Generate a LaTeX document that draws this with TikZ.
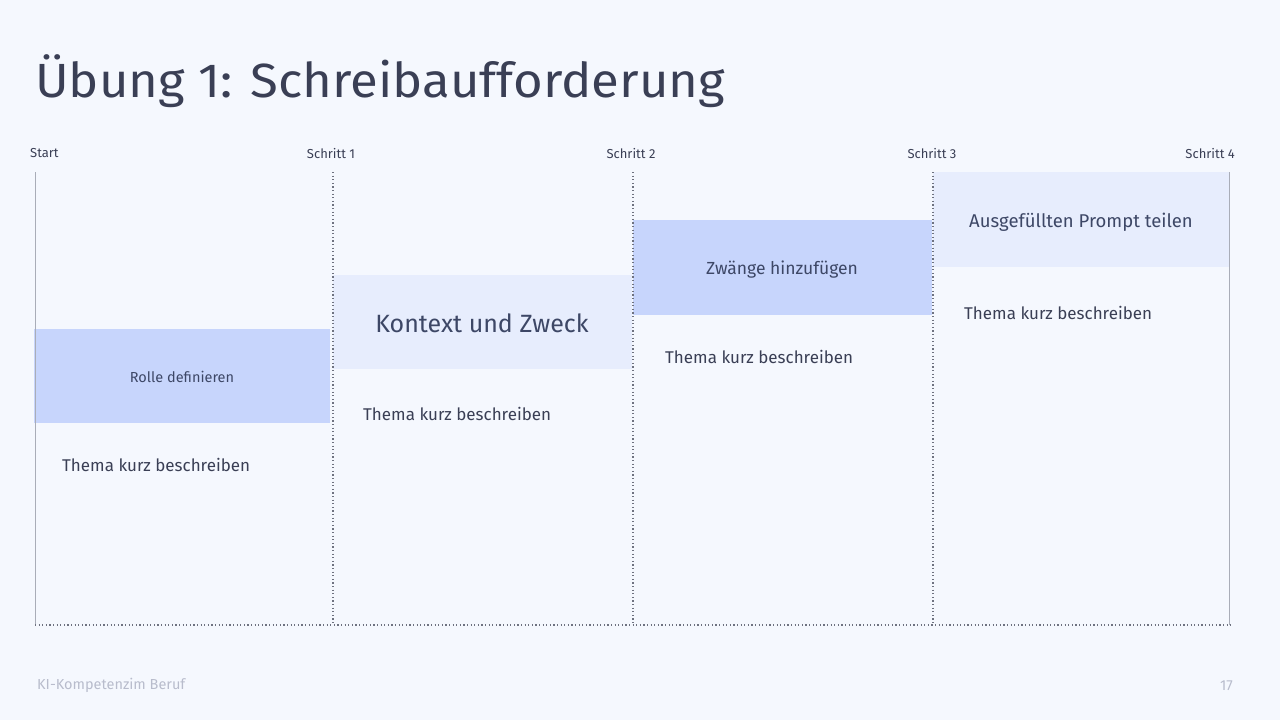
\documentclass[tikz,border=0pt]{standalone}
\usepackage{fontspec}
\setmainfont{Fira Sans}[Scale=1]
\setsansfont{Fira Sans}
\definecolor{bg}{HTML}{F5F8FE}
\definecolor{ink}{HTML}{3A3F55}
\definecolor{strong}{HTML}{C7D5FC}
\definecolor{soft}{HTML}{E7EDFD}
\definecolor{rule}{HTML}{A9ADB8}
\definecolor{dots}{HTML}{6E7280}
\definecolor{foot}{HTML}{B8BCCC}
\definecolor{boxtext}{HTML}{3D4766}
\tikzset{
  px/.style={x=1pt,y=-1pt},
  steplabel/.style={font=\fontsize{13}{15}\selectfont, text=ink, inner sep=0pt},
  desc/.style={font=\fontsize{17}{20}\selectfont, text=ink, anchor=west, inner sep=0pt},
  solidrule/.style={draw=rule, line width=0.9pt},
  dotrule/.style={draw=dots, line width=1.1pt, dash pattern=on 1.1pt off 2.5pt},
  boxstrong/.style={fill=strong, draw=none},
  boxsoft/.style={fill=soft, draw=none}
}
\begin{document}
\begin{tikzpicture}[px]
\fill[bg] (0,0) rectangle (1280,720);
\useasboundingbox (0,0) rectangle (1280,720);
% title
\node[anchor=base west, inner sep=0pt, text=ink, xscale=1.06, font=\fontsize{48}{52}\selectfont] (title) at (35,97) {Übung 1: Schreibaufforderung};
% boxes
\fill[boxstrong] (34,329) rectangle (330,423);
\fill[boxsoft] (333,275) rectangle (632,369);
\fill[boxstrong] (633,220) rectangle (932,315);
\fill[boxsoft] (933,172) rectangle (1229,267);
\node[text=boxtext, font=\fontsize{14.5}{17}\selectfont] (b1) at (182,377) {Rolle definieren};
\node[text=boxtext, font=\fontsize{25}{28}\selectfont] (b2) at (482,323) {Kontext und Zweck};
\node[text=boxtext, font=\fontsize{17.5}{20}\selectfont] (b3) at (782,270) {Zwänge hinzufügen};
\node[text=boxtext, font=\fontsize{18.5}{22}\selectfont] (b4) at (1081,222) {Ausgefüllten Prompt teilen};
% descriptions
\node[desc] (d1) at (62,465) {Thema kurz beschreiben};
\node[desc] (d2) at (363,414) {Thema kurz beschreiben};
\node[desc] (d3) at (665,357) {Thema kurz beschreiben};
\node[desc] (d4) at (964,313) {Thema kurz beschreiben};
% lines
\coordinate (t0) at (35,172); \coordinate (u0) at (35,625);
\coordinate (t1) at (333,172); \coordinate (u1) at (333,625);
\coordinate (t2) at (633,172); \coordinate (u2) at (633,625);
\coordinate (t3) at (933,172); \coordinate (u3) at (933,625);
\coordinate (t4) at (1229,172); \coordinate (u4) at (1229,625);
\draw[solidrule] (t0) -- (u0);
\draw[solidrule] (t4) -- (u4);
\draw[dotrule] (t1) -- (u1);
\draw[dotrule] (t2) -- (u2);
\draw[dotrule] (t3) -- (u3);
\coordinate (bl) at (35,625); \coordinate (br) at (1231,625);
\draw[dotrule] (bl) -- (br);
% step labels
\node[steplabel, anchor=west] (s0) at (30,153) {Start};
\node[steplabel] (s1) at (331,154) {Schritt 1};
\node[steplabel] (s2) at (631,154) {Schritt 2};
\node[steplabel] (s3) at (932,154) {Schritt 3};
\node[steplabel, anchor=east] (s4) at (1235,154) {Schritt 4};
% footer
\node[anchor=west, inner sep=0pt, text=foot, font=\fontsize{14.5}{17}\selectfont] (f1) at (37,685) {KI-Kompetenzim Beruf};
\node[anchor=east, inner sep=0pt, text=foot, font=\fontsize{14.5}{17}\selectfont] (f2) at (1233,686) {17};
\end{tikzpicture}
\end{document}
